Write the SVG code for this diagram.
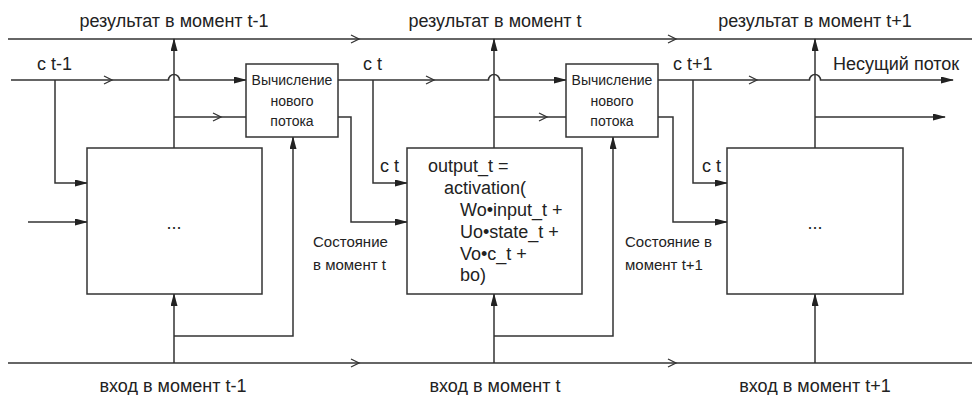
<svg xmlns="http://www.w3.org/2000/svg" width="972" height="395" viewBox="0 0 972 395">
<style>
  text { font-family: "Liberation Sans", Arial, sans-serif; fill: #222; }
  .t18 { font-size: 18px; }
  .t15 { font-size: 15px; }
  .t13 { font-size: 14px; }
  .mid { text-anchor: middle; }
  .box { fill: #fff; stroke: #333; stroke-width: 1.5; }
  .ln { fill: none; stroke: #333; stroke-width: 1.5; }
  .arr { fill: none; stroke: #333; stroke-width: 1.5; marker-end: url(#ah); }
  .chev { fill: none; stroke: #333; stroke-width: 1.3; }
</style>
<defs>
  <marker id="ah" viewBox="0 0 13 7" refX="12" refY="3.5" markerWidth="13" markerHeight="7" markerUnits="userSpaceOnUse" orient="auto">
    <path d="M0,0 L13,3.5 L0,7 z" fill="#222"/>
  </marker>
</defs>

<g id="connectors">
  <!-- long top and bottom lines -->
  <path class="ln" d="M8,39 H972"/>
  <path class="ln" d="M8,363 H972"/>
  <!-- section 1 -->
  <path class="arr" d="M11,80 H168.5 A5.5,5.5 0 0 1 179.5,80 H246"/>
  <path class="arr" d="M55,80 V183 H87"/>
  <path class="arr" d="M28,222 H87"/>
  <path class="arr" d="M174,148 V39"/>
  <path class="ln" d="M174,117 H246"/>
  <path class="arr" d="M174,363 V294"/>
  <path class="arr" d="M174,336 H293 V137"/>
  <!-- section 2 -->
  <path class="arr" d="M338,80 H488.5 A5.5,5.5 0 0 1 499.5,80 H566"/>
  <path class="arr" d="M373,80 V183 H407"/>
  <path class="arr" d="M338,117 H351 V222 H407"/>
  <path class="arr" d="M494,148 V39"/>
  <path class="ln" d="M494,117 H566"/>
  <path class="arr" d="M494,363 V294"/>
  <path class="arr" d="M494,336 H613 V137"/>
  <!-- section 3 -->
  <path class="arr" d="M658,80 H809.5 A5.5,5.5 0 0 1 820.5,80 H953"/>
  <path class="arr" d="M693,80 V183 H727"/>
  <path class="arr" d="M658,117 H673 V222 H727"/>
  <path class="arr" d="M815,148 V39"/>
  <path class="arr" d="M815,117 H945"/>
  <path class="arr" d="M815,363 V294"/>
  <!-- open chevrons (flow direction) -->
  <path class="chev" d="M351,35 L359,39 L351,43"/>
  <path class="chev" d="M668,35 L676,39 L668,43"/>
  <path class="chev" d="M351,359 L359,363 L351,367"/>
  <path class="chev" d="M668,359 L676,363 L668,367"/>
  <path class="chev" d="M104,76 L112,80 L104,84"/>
  <path class="chev" d="M426,76 L434,80 L426,84"/>
  <path class="chev" d="M749,76 L757,80 L749,84"/>
  <path class="chev" d="M213,113 L221,117 L213,121"/>
  <path class="chev" d="M539,113 L547,117 L539,121"/>
</g>

<g id="labels">
  <text class="t18 mid" x="174" y="27">результат в момент t-1</text>
  <text class="t18 mid" x="495" y="27">результат в момент t</text>
  <text class="t18 mid" x="815" y="27">результат в момент t+1</text>
  <text class="t18 mid" x="173" y="392">вход в момент t-1</text>
  <text class="t18 mid" x="495" y="392">вход в момент t</text>
  <text class="t18 mid" x="815" y="392">вход в момент t+1</text>
  <text class="t18" x="37" y="70">c t-1</text>
  <text class="t18" x="363" y="70">c t</text>
  <text class="t18" x="673" y="70">c t+1</text>
  <text class="t18" x="833" y="70">Несущий поток</text>
  <text class="t18" x="380" y="172">c t</text>
  <text class="t18" x="702" y="172">c t</text>
  <text class="t15" x="313" y="247">Состояние</text>
  <text class="t15" x="313" y="270">в момент t</text>
  <text class="t15" x="625" y="247">Состояние в</text>
  <text class="t15" x="625" y="270">момент t+1</text>
</g>

<g id="cell-1">
  <rect class="box" x="87" y="148" width="175" height="146"/>
  <text class="t18 mid" x="174" y="229">...</text>
</g>
<g id="compute-1">
  <rect class="box" x="246" y="64" width="92" height="73"/>
  <text class="t13 mid" x="292" y="85">Вычисление</text>
  <text class="t13 mid" x="292" y="106">нового</text>
  <text class="t13 mid" x="292" y="126">потока</text>
</g>
<g id="cell-2">
  <rect class="box" x="407" y="148" width="175" height="146"/>
  <text class="t18" x="428" y="172">output_t =</text>
  <text class="t18" x="444" y="194">activation(</text>
  <text class="t18" x="460" y="216">Wo•input_t +</text>
  <text class="t18" x="460" y="238">Uo•state_t +</text>
  <text class="t18" x="460" y="260">Vo•c_t +</text>
  <text class="t18" x="460" y="281">bo)</text>
</g>
<g id="compute-2">
  <rect class="box" x="566" y="64" width="92" height="73"/>
  <text class="t13 mid" x="612" y="85">Вычисление</text>
  <text class="t13 mid" x="612" y="106">нового</text>
  <text class="t13 mid" x="612" y="126">потока</text>
</g>
<g id="cell-3">
  <rect class="box" x="727" y="148" width="176" height="146"/>
  <text class="t18 mid" x="815" y="229">...</text>
</g>
</svg>
